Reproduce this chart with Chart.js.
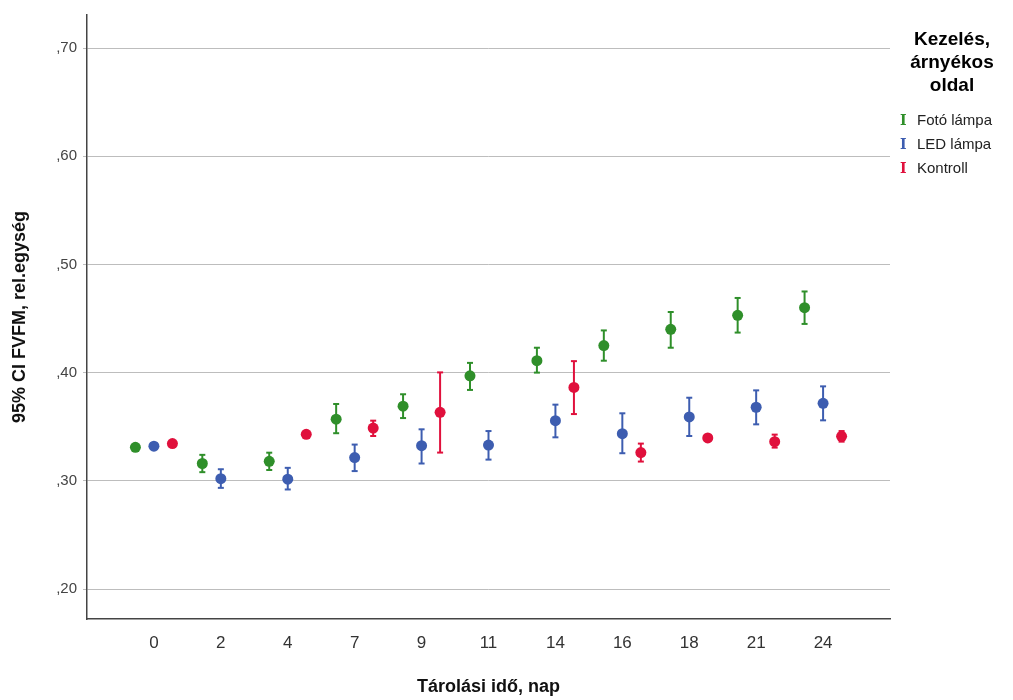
<!DOCTYPE html>
<html lang="hu">
<head>
  <meta charset="UTF-8" />
  <title>FVFM hibasáv diagram</title>
  <script src="https://cdn.jsdelivr.net/npm/chart.js"></script>
  <style>
    html, body { margin: 0; padding: 0; background: #fff; }
    .wrap { position: relative; width: 1013px; height: 700px; }
    canvas { display: block; }
    /* jelmagyarázat a rajzterület jobb oldalán */
    .legend {
      position: absolute; left: 893px; top: 27px; width: 118px;
      font-family: "Liberation Sans", Arial, sans-serif; color: #222;
    }
    .legend h3 {
      margin: 0 0 12px 0; font-size: 19px; line-height: 23px;
      font-weight: bold; text-align: center; color: #000;
    }
    .legend .item { font-size: 15px; line-height: 23px; white-space: nowrap; }
    .legend .ico {
      display: inline-block; width: 14px; margin-left: 7px; margin-right: 3px;
      font-family: "DejaVu Serif", serif; font-weight: bold; font-size: 14px;
    }
  </style>
</head>
<body>
<div class="wrap">
  <canvas id="chart" width="1013" height="700"></canvas>
  <div class="legend">
    <h3>Kezelés,<br>árnyékos<br>oldal</h3>
    <div id="legendItems"></div>
  </div>
</div>

<script>
  // adatok (leolvasva az ábráról)
  const days = ['0', '2', '4', '7', '9', '11', '14', '16', '18', '21', '24'];
  const seriesNames = ['Fotó lámpa', 'LED lámpa', 'Kontroll'];
  const seriesColors = ['#2f8f2a', '#3d5db0', '#e0103c'];

  const fotoMean = [0.331, 0.316, 0.318, 0.357, 0.369, 0.397, 0.411, 0.425, 0.440, 0.453, 0.460];
  const fotoLow  = [0.329, 0.308, 0.310, 0.344, 0.358, 0.384, 0.400, 0.411, 0.423, 0.437, 0.445];
  const fotoHigh = [0.333, 0.324, 0.326, 0.371, 0.380, 0.409, 0.423, 0.439, 0.456, 0.469, 0.475];

  const ledMean = [0.332, 0.302, 0.3015, 0.3215, 0.3325, 0.333, 0.3556, 0.3436, 0.359, 0.368, 0.3716];
  const ledLow  = [0.331, 0.2935, 0.292, 0.309, 0.316, 0.3196, 0.3402, 0.3255, 0.3414, 0.3522, 0.3559];
  const ledHigh = [0.333, 0.3107, 0.312, 0.3335, 0.3476, 0.346, 0.3704, 0.3624, 0.3768, 0.3836, 0.3873];

  const kontrollMean = [0.3344, null, 0.343, 0.3488, 0.3633, null, 0.3863, 0.3261, 0.3396, 0.3362, 0.3411];
  const kontrollLow  = [0.3335, null, 0.342, 0.3414, 0.3261, null, 0.3617, 0.3178, 0.339, 0.3307, 0.3362];
  const kontrollHigh = [0.3355, null, 0.344, 0.3556, 0.4002, null, 0.4106, 0.3344, 0.3405, 0.3427, 0.346];

  const yTicks = [0.20, 0.30, 0.40, 0.50, 0.60, 0.70];

  const means = [fotoMean, ledMean, kontrollMean];
  const lows = [fotoLow, ledLow, kontrollLow];
  const highs = [fotoHigh, ledHigh, kontrollHigh];

  // üres kategória mindkét szélen, hogy a 0 és a 24 ne a szélen legyen
  const labels = [''].concat(days, ['']);
  const pad = arr => [null].concat(arr, [null]);

  const datasets = seriesNames.map((name, s) => ({
    label: name,
    data: pad(days.map((d, i) => lows[s][i] == null ? null : [lows[s][i], highs[s][i]])),
    means: pad(means[s]),
    backgroundColor: seriesColors[s],
    borderWidth: 0,
    maxBarThickness: 2,
    categoryPercentage: 0.83,
    barPercentage: 1
  }));

  // pontok és sapkák a hibasávokra
  const errorBarPlugin = {
    id: 'errorBars',
    afterDatasetsDraw(chart) {
      const ctx = chart.ctx;
      const y = chart.scales.y;
      chart.data.datasets.forEach((ds, di) => {
        const meta = chart.getDatasetMeta(di);
        meta.data.forEach((el, i) => {
          const v = ds.data[i];
          if (!v || ds.means[i] == null) return;
          const x = el.x;
          ctx.save();
          ctx.strokeStyle = ds.backgroundColor;
          ctx.fillStyle = ds.backgroundColor;
          ctx.lineWidth = 2;
          [v[0], v[1]].forEach(val => {
            const py = y.getPixelForValue(val);
            ctx.beginPath();
            ctx.moveTo(x - 3, py);
            ctx.lineTo(x + 3, py);
            ctx.stroke();
          });
          ctx.beginPath();
          ctx.arc(x, y.getPixelForValue(ds.means[i]), 5.5, 0, Math.PI * 2);
          ctx.fill();
          ctx.restore();
        });
      });
    }
  };

  const config = {
    type: 'bar',
    data: { labels: labels, datasets: datasets },
    options: {
      responsive: false,
      animation: false,
      layout: { padding: { left: 0, right: 123, top: 14, bottom: 0 } },
      plugins: {
        legend: { display: false },
        tooltip: { enabled: false }
      },
      scales: {
        x: {
          offset: false,
          grid: { display: false, drawTicks: false },
          border: { display: true, color: '#444', width: 1.5 },
          ticks: {
            color: '#333',
            padding: 14,
            maxRotation: 0,
            autoSkip: false,
            font: { family: '"Liberation Sans", Arial, sans-serif', size: 17 }
          },
          title: {
            display: true,
            text: 'Tárolási idő, nap',
            color: '#111',
            padding: { top: 0, bottom: 2 },
            font: { family: '"Liberation Sans", Arial, sans-serif', size: 18, weight: 'bold' }
          },
          afterFit: s => { s.height = 81; }
        },
        y: {
          min: 0.1723,
          max: 0.7305,
          afterBuildTicks: s => { s.ticks = yTicks.map(v => ({ value: v })); },
          grid: { color: '#bdbdbd', lineWidth: 1, tickLength: 4, drawTicks: true },
          border: { display: true, color: '#444', width: 1.5 },
          ticks: {
            color: '#444',
            padding: 6,
            font: { family: '"Liberation Sans", Arial, sans-serif', size: 15 },
            callback: v => v.toFixed(2).replace('0.', ',')
          },
          title: {
            display: true,
            text: '95% CI FVFM, rel.egység',
            color: '#111',
            padding: { top: 9, bottom: 0 },
            font: { family: '"Liberation Sans", Arial, sans-serif', size: 18, weight: 'bold' }
          },
          afterFit: s => { s.width = 87; }
        }
      }
    },
    plugins: [errorBarPlugin]
  };

  new Chart(document.getElementById('chart').getContext('2d'), config);

  // HTML jelmagyarázat
  document.getElementById('legendItems').innerHTML = seriesNames.map((n, s) =>
    `<div class="item"><span class="ico" style="color:${seriesColors[s]}">I</span>${n}</div>`
  ).join('');
</script>
</body>
</html>
